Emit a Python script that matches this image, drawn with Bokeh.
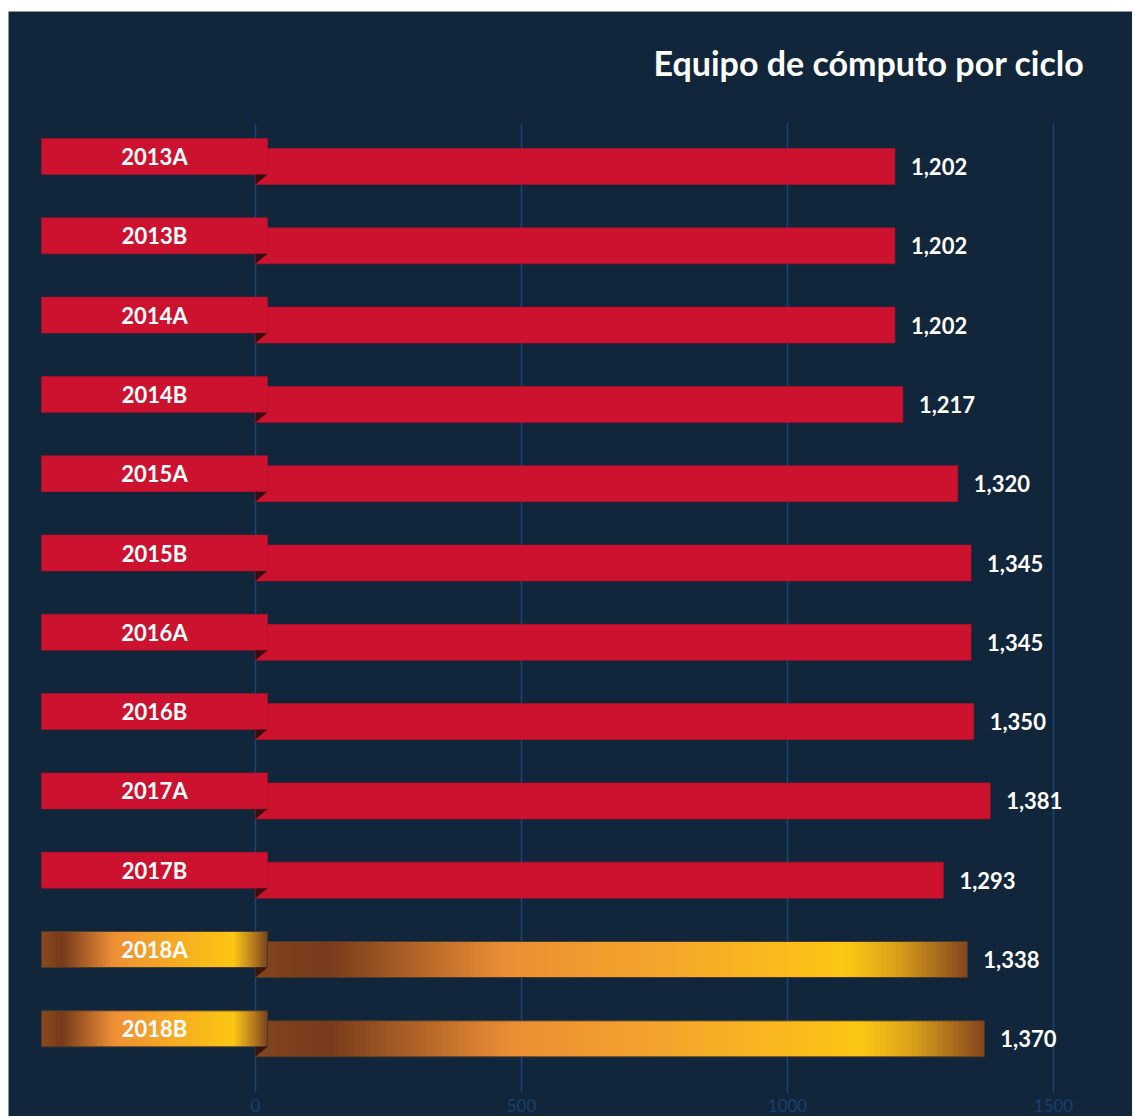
import numpy as np
from bokeh.plotting import figure
from bokeh.models import Range1d, ColumnDataSource, Spacer
from bokeh.layouts import column, row
from bokeh.embed import file_html
from bokeh.resources import INLINE
from bokeh.core.properties import value

# ---- data ----
ciclos = ["2013A", "2013B", "2014A", "2014B", "2015A", "2015B",
          "2016A", "2016B", "2017A", "2017B", "2018A", "2018B"]
equipos = [1202, 1202, 1202, 1217, 1320, 1345, 1345, 1350, 1381, 1293, 1338, 1370]
destacados = ["2018A", "2018B"]
ticks = [0, 500, 1000, 1500]
titulo = "Equipo de cómputo por ciclo"

# ---- styles ----
BG = "#11263a"
RED = "#cd1230"
GRID = "#1c4577"
FOLD_RED = "#3a0c10"
FOLD_GOLD = "#3a1608"
FONT = "Lato"

W, H = 1124, 1105
PX = 500.0 / 266.0          # data units per pixel
ZERO_PX = 247               # pixel distance of zero from figure left
PITCH = 79.3                # row pitch in px
FIRST = 155                 # first row centre from figure top (px)

def ypix(px_from_top):
    return (px_from_top - FIRST) / PITCH

def xpix(px_from_left):
    return (px_from_left - ZERO_PX) * PX

x_start = xpix(0)
x_end = xpix(W)
y_top = ypix(0)
y_bottom = ypix(H)

BAR_H = 36 / PITCH
TAB_SHIFT = -10 / PITCH
TAB_L = -214 * PX
TAB_R = 12 * PX

p = figure(width=W, height=H, output_backend="svg", toolbar_location=None,
           x_range=Range1d(x_start, x_end), y_range=Range1d(y_bottom, y_top),
           x_axis_location=None, y_axis_location=None,
           min_border=0, min_border_left=0, min_border_right=0,
           min_border_top=0, min_border_bottom=0)
p.background_fill_color = BG
p.border_fill_color = BG
p.outline_line_color = None
p.grid.visible = False

# grid lines at the ticks
p.segment(x0=ticks, x1=ticks, y0=[ypix(112)] * len(ticks),
          y1=[ypix(1081)] * len(ticks), line_color=GRID, line_width=1.5)
# tick labels
p.text(x=ticks, y=[ypix(1094)] * len(ticks), text=[str(t) for t in ticks],
       text_align="center", text_baseline="middle", text_color="#1d3e6c",
       text_font=value(FONT), text_font_size="17px")

# title
p.text(x=[xpix(1076)], y=[ypix(51)], text=[titulo], text_align="right",
       text_baseline="middle", text_color="white", text_font=value(FONT),
       text_font_style="bold", text_font_size="34px")

idx = list(range(len(ciclos)))
is_hi = [c in destacados for c in ciclos]

# plain red bars and tabs
plain = [i for i in idx if not is_hi[i]]
src = ColumnDataSource(dict(
    y=[i for i in plain],
    ty=[i + TAB_SHIFT for i in plain],
    v=[equipos[i] for i in plain],
))
p.hbar(y="y", left=0, right="v", height=BAR_H, source=src,
       fill_color=RED, line_color="#b01028", line_width=0.6)
p.hbar(y="ty", left=TAB_L, right=TAB_R, height=BAR_H, source=src,
       fill_color=RED, line_color="#b01028", line_width=0.6)

# gradient bars
def interp_colors(stops, n):
    pos = np.array([s[0] for s in stops])
    rgb = np.array([[int(s[1][k:k + 2], 16) for k in (1, 3, 5)] for s in stops], float)
    t = (np.arange(n) + 0.5) / n
    out = []
    for tt in t:
        r, g, b = (np.interp(tt, pos, rgb[:, c]) for c in range(3))
        out.append("#%02x%02x%02x" % (int(r), int(g), int(b)))
    return out

bar_stops = [(0.0, "#834520"), (0.10, "#773b1c"), (0.35, "#ec8e35"),
             (0.60, "#f5aa2a"), (0.83, "#fdc714"), (0.90, "#dca21a"),
             (1.0, "#85461e")]
tab_stops = [(0.0, "#8a4a20"), (0.09, "#773b1c"), (0.32, "#ef9036"),
             (0.85, "#fdc714"), (0.94, "#b57a22"), (1.0, "#7a421c")]
N = 140
for i in idx:
    if not is_hi[i]:
        continue
    v = equipos[i]
    edges = np.linspace(0, v, N + 1)
    step = edges[1] - edges[0]
    p.quad(left=edges[:-1], right=np.minimum(edges[1:] + step, v),
           bottom=[i + BAR_H / 2] * N, top=[i - BAR_H / 2] * N,
           fill_color=interp_colors(bar_stops, N), line_color=None)
    p.hbar(y=[i], left=[0], right=[v], height=BAR_H, fill_color=None,
           line_color="#4a3a2c", line_width=1)
    tedges = np.linspace(TAB_L, TAB_R, N + 1)
    tstep = tedges[1] - tedges[0]
    ty = i + TAB_SHIFT
    p.quad(left=tedges[:-1], right=np.minimum(tedges[1:] + tstep, TAB_R),
           bottom=[ty + BAR_H / 2] * N, top=[ty - BAR_H / 2] * N,
           fill_color=interp_colors(tab_stops, N), line_color=None)
    p.hbar(y=[ty], left=[TAB_L], right=[TAB_R], height=BAR_H, fill_color=None,
           line_color="#4a3a2c", line_width=1)

# folds (small dark triangles)
xs, ys, cols = [], [], []
for i in idx:
    tb = i + TAB_SHIFT + BAR_H / 2
    bb = i + BAR_H / 2
    xs.append([0, TAB_R, 0])
    ys.append([tb, tb, bb])
    cols.append(FOLD_GOLD if is_hi[i] else FOLD_RED)
p.patches(xs=xs, ys=ys, fill_color=cols, line_color=None)

# labels
p.text(x=[(TAB_L + TAB_R) / 2] * len(idx), y=[i + TAB_SHIFT for i in idx],
       text=ciclos, text_align="center", text_baseline="middle",
       text_color="white", text_font=value(FONT), text_font_style="bold",
       text_font_size="22px")
p.text(x=equipos, y=idx, text=[f"{v:,}" for v in equipos], x_offset=16,
       text_align="left", text_baseline="middle", text_color="white",
       text_font=value(FONT), text_font_style="bold", text_font_size="22px")

layout = column(Spacer(height=11), row(Spacer(width=8), p))
open("out.html", "w").write(file_html(layout, INLINE))
